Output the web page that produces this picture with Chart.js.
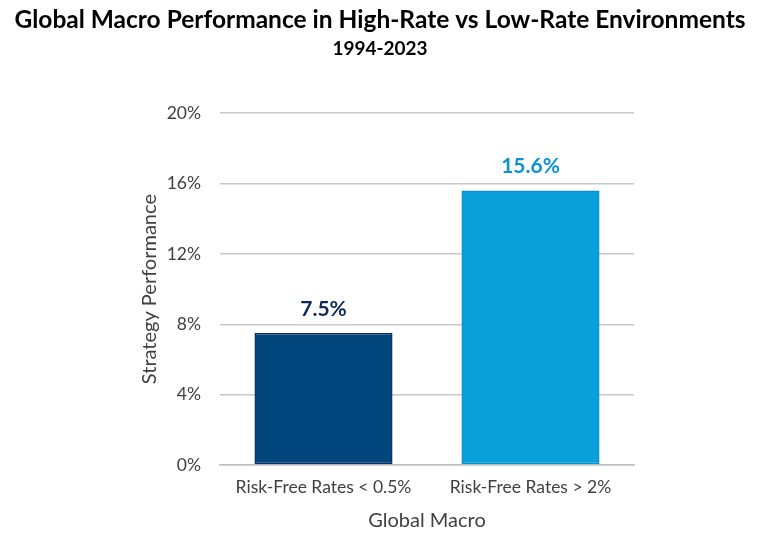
<!DOCTYPE html>
<html>
<head>
<meta charset="utf-8">
<script src="https://cdn.jsdelivr.net/npm/chart.js@4.4.1/dist/chart.umd.min.js"></script>
<style>
  html, body { margin: 0; padding: 0; background: #ffffff; }
  #wrap { width: 760px; height: 555px; }
</style>
</head>
<body>
<div id="wrap"><canvas id="macroChart" width="760" height="555"></canvas></div>
<script>
// Données
const categories = ['Risk-Free Rates < 0.5%', 'Risk-Free Rates > 2%'];
const performance = [7.5, 15.6];
const yTicks = [0, 4, 8, 12, 16, 20];

const barColors = ['#00457C', '#09A0DA'];
const barBorders = ['#0B2D63', '#0590D2'];
const labelColors = ['#0D2A5E', '#0A92D6'];

const FONT = 'Lato, "Open Sans", sans-serif';

// Étiquettes de valeur avec fond blanc (masque la grille)
const valueLabels = {
  id: 'valueLabels',
  afterDatasetsDraw(chart) {
    const ctx = chart.ctx;
    const meta = chart.getDatasetMeta(0);
    ctx.save();
    ctx.font = 'bold 21px ' + FONT;
    ctx.textAlign = 'center';
    ctx.textBaseline = 'middle';
    meta.data.forEach((bar, i) => {
      const txt = performance[i].toFixed(1) + '%';
      const w = ctx.measureText(txt).width + 14;
      const y = bar.y - 24;
      ctx.fillStyle = '#ffffff';
      ctx.fillRect(bar.x - w / 2, y - 15, w, 30);
      ctx.fillStyle = labelColors[i];
      ctx.fillText(txt, bar.x, y);
    });
    ctx.restore();
  }
};

new Chart(document.getElementById('macroChart').getContext('2d'), {
  type: 'bar',
  data: {
    labels: categories,
    datasets: [{
      data: performance,
      backgroundColor: barColors,
      borderColor: barBorders,
      borderWidth: 1.5,
      borderSkipped: false,
      categoryPercentage: 1,
      barPercentage: 0.667
    }]
  },
  options: {
    responsive: false,
    animation: false,
    layout: { padding: { left: 0, right: 0, top: 0, bottom: 22 } },
    plugins: {
      legend: { display: false },
      tooltip: { enabled: false },
      title: {
        display: true,
        text: 'Global Macro Performance in High-Rate vs Low-Rate Environments',
        color: '#000000',
        font: { family: FONT, size: 24.5, weight: 'bold' },
        padding: { top: 5, bottom: 2 }
      },
      subtitle: {
        display: true,
        text: '1994-2023',
        color: '#000000',
        font: { family: FONT, size: 19, weight: 'bold' },
        padding: { top: 1, bottom: 53 }
      }
    },
    scales: {
      x: {
        afterFit(scale) { scale.height = 68; },
        grid: { display: false, drawTicks: false },
        border: { display: true, color: '#BFBFBF', width: 1.5 },
        ticks: { color: '#404040', font: { family: FONT, size: 17.5 }, padding: 12 },
        title: {
          display: true,
          text: 'Global Macro',
          color: '#404040',
          font: { family: FONT, size: 20 },
          padding: { top: 0, bottom: 0 }
        }
      },
      y: {
        min: 0,
        max: 20,
        afterBuildTicks(scale) {
          scale.ticks = yTicks.map(v => ({ value: v }));
        },
        afterFit(scale) { scale.width = 220; },
        grid: { color: '#C8C8C8', lineWidth: 1.5, drawTicks: false },
        border: { display: false },
        ticks: {
          color: '#404040',
          font: { family: FONT, size: 17.5 },
          padding: 19,
          callback: v => v + '%'
        },
        title: {
          display: true,
          text: 'Strategy Performance',
          color: '#404040',
          font: { family: FONT, size: 20 },
          padding: { top: 138, bottom: 0 }
        }
      },
      // axe vide à droite pour réserver la marge
      yRight: {
        position: 'right',
        afterFit(scale) { scale.width = 126; },
        grid: { display: false, drawTicks: false },
        border: { display: false },
        ticks: { display: false }
      }
    }
  },
  plugins: [valueLabels]
});
</script>
</body>
</html>
